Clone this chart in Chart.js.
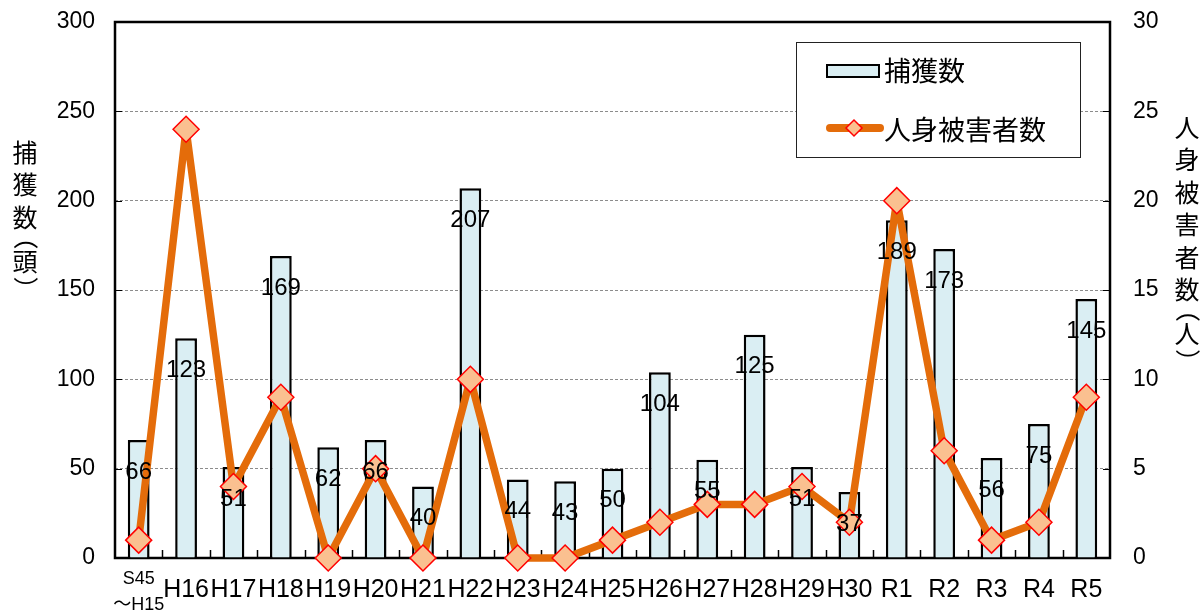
<!DOCTYPE html>
<html lang="ja">
<head>
<meta charset="utf-8">
<title>捕獲数と人身被害者数</title>
<script src="https://cdn.jsdelivr.net/npm/chart.js@4/dist/chart.umd.min.js"></script>
<style>
  html, body { margin: 0; padding: 0; background: #fff; }
  #wrap { width: 1203px; height: 611px; position: relative; }
</style>
</head>
<body>
<div id="wrap"><canvas id="myChart"></canvas></div>
<script>
// data
const years = [['S45', '～H15'], 'H16', 'H17', 'H18', 'H19', 'H20', 'H21', 'H22', 'H23', 'H24', 'H25',
  'H26', 'H27', 'H28', 'H29', 'H30', 'R1', 'R2', 'R3', 'R4', 'R5'];
const captures = [66, 123, 51, 169, 62, 66, 40, 207, 44, 43, 50, 104, 55, 125, 51, 37, 189, 173, 56, 75, 145];
const victims = [1, 24, 4, 9, 0, 5, 0, 10, 0, 0, 1, 2, 3, 3, 4, 2, 20, 6, 1, 2, 9];
const captureName = '捕獲数';
const victimName = '人身被害者数';
const leftTitle = ['捕', '獲', '数', '（', '頭', '）'];
const rightTitle = ['人', '身', '被', '害', '者', '数', '（', '人', '）'];

const FONT = "'Liberation Sans', 'Noto Sans CJK JP', sans-serif";
const JP = "'Noto Sans CJK JP', sans-serif";
const BAR_FILL = '#DAEEF3';
const LINE_COLOR = '#E46C0A';
const MARK_FILL = '#FAC090';
const MARK_EDGE = '#FF0000';

function strokeLine(ctx, x1, y1, x2, y2) {
  ctx.beginPath();
  ctx.moveTo(x1, y1);
  ctx.lineTo(x2, y2);
  ctx.stroke();
}

// vertical (stacked) axis title; brackets turned a quarter turn
function drawVertical(ctx, chars, x, y) {
  chars.forEach((c, i) => {
    if (i > 0) {
      const prev = chars[i - 1];
      if (c === '（') y += 20;
      else if (prev === '（') y += 24;
      else if (c === '）') y += 28;
      else y += 32.5;
    }
    if (c === '（' || c === '）') {
      ctx.save();
      ctx.translate(x, y);
      ctx.rotate(Math.PI / 2);
      ctx.fillText(c, 0, 0);
      ctx.restore();
    } else {
      ctx.fillText(c, x, y);
    }
  });
}

const decor = {
  id: 'decor',
  beforeDatasetsDraw(chart) {
    const {ctx, chartArea: a, scales} = chart;
    ctx.save();
    ctx.strokeStyle = '#000';
    ctx.lineWidth = 1;
    scales.y.ticks.forEach(t => {
      const py = Math.round(scales.y.getPixelForValue(t.value)) + 0.5;
      strokeLine(ctx, a.left, py, a.left + 7, py);
    });
    scales.y1.ticks.forEach(t => {
      const py = Math.round(scales.y1.getPixelForValue(t.value)) + 0.5;
      strokeLine(ctx, a.right - 7, py, a.right, py);
    });
    ctx.lineWidth = 1.5;
    for (let i = 1; i < years.length; i++) {
      const px = Math.round((scales.x.getPixelForValue(i - 1) + scales.x.getPixelForValue(i)) / 2) + 0.5;
      strokeLine(ctx, px, a.bottom, px, a.bottom - 8);
    }
    ctx.lineWidth = 2.5;
    ctx.strokeRect(a.left, a.top, a.right - a.left, a.bottom - a.top);
    ctx.restore();
  },
  afterDatasetsDraw(chart) {
    const {ctx} = chart;
    const meta = chart.getDatasetMeta(0);
    ctx.save();
    ctx.fillStyle = '#000';
    ctx.font = '24px ' + FONT;
    ctx.textAlign = 'center';
    ctx.textBaseline = 'middle';
    meta.data.forEach((bar, i) => {
      ctx.fillText(String(captures[i]), bar.x, bar.y + 32);
    });
    ctx.restore();
  },
  afterDraw(chart) {
    const {ctx, chartArea: a} = chart;
    ctx.save();
    // legend
    const lx = a.right - 314, ly = a.top + 20;
    ctx.fillStyle = '#fff';
    ctx.fillRect(lx, ly, 284, 115);
    ctx.strokeStyle = '#222';
    ctx.lineWidth = 1;
    ctx.strokeRect(lx + 0.5, ly + 0.5, 284, 115);
    ctx.fillStyle = BAR_FILL;
    ctx.strokeStyle = '#000';
    ctx.lineWidth = 2;
    ctx.fillRect(lx + 31, ly + 23, 52, 12);
    ctx.strokeRect(lx + 31, ly + 23, 52, 12);
    ctx.strokeStyle = LINE_COLOR;
    ctx.lineWidth = 8;
    ctx.lineCap = 'round';
    strokeLine(ctx, lx + 34, ly + 86, lx + 84, ly + 86);
    ctx.fillStyle = MARK_FILL;
    ctx.strokeStyle = MARK_EDGE;
    ctx.lineWidth = 1.5;
    ctx.beginPath();
    ctx.moveTo(lx + 50, ly + 86); ctx.lineTo(lx + 58, ly + 78);
    ctx.lineTo(lx + 66, ly + 86); ctx.lineTo(lx + 58, ly + 94);
    ctx.closePath();
    ctx.fill();
    ctx.stroke();
    ctx.fillStyle = '#000';
    ctx.font = '27px ' + JP;
    ctx.textAlign = 'left';
    ctx.textBaseline = 'middle';
    ctx.fillText(captureName, lx + 88, ly + 29);
    ctx.fillText(victimName, lx + 88, ly + 88);
    // axis titles
    ctx.font = '25px ' + JP;
    ctx.textAlign = 'center';
    drawVertical(ctx, leftTitle, 25, a.top + 130);
    drawVertical(ctx, rightTitle, 1187, a.top + 105);
    ctx.restore();
  }
};

const chart = new Chart(document.getElementById('myChart'), {
  data: {
    labels: years,
    datasets: [
      {
        type: 'bar', label: captureName, data: captures, yAxisID: 'y', order: 1,
        backgroundColor: BAR_FILL, borderColor: '#000', borderWidth: 2.5,
        barPercentage: 0.5, categoryPercentage: 0.92
      },
      {
        type: 'line', label: victimName, data: victims, yAxisID: 'y1', order: 0,
        borderColor: LINE_COLOR, borderWidth: 7.5, tension: 0, clip: false,
        borderJoinStyle: 'round', borderCapStyle: 'round',
        pointStyle: 'rectRot', pointRadius: 13, pointHoverRadius: 13,
        pointBackgroundColor: MARK_FILL, pointBorderColor: MARK_EDGE, pointBorderWidth: 1.5
      }
    ]
  },
  options: {
    responsive: true,
    maintainAspectRatio: false,
    animation: false,
    layout: {padding: {top: 22, left: 0, right: 0, bottom: 0}},
    plugins: {legend: {display: false}, tooltip: {enabled: false}},
    scales: {
      x: {
        offset: true,
        grid: {display: false, drawTicks: false},
        border: {display: false},
        ticks: {
          color: '#000', padding: 8, maxRotation: 0, autoSkip: false,
          font: (c) => c.index === 0 ? {family: FONT, size: 18, lineHeight: 1.45} : {family: FONT, size: 25, lineHeight: 1.9}
        },
        afterFit: (s) => { s.height = 53; }
      },
      y: {
        position: 'left', min: 0, max: 300,
        grid: {color: '#8c8c8c', lineWidth: 1, drawTicks: false},
        border: {display: false, dash: [3, 2]},
        ticks: {stepSize: 50, color: '#000', padding: 20, font: {family: FONT, size: 23}},
        afterFit: (s) => { s.width = 115; s.paddingTop = 0; s.paddingBottom = 0; }
      },
      y1: {
        position: 'right', min: 0, max: 30,
        grid: {display: false, drawTicks: false},
        border: {display: false},
        ticks: {stepSize: 5, color: '#000', padding: 23, font: {family: FONT, size: 23}},
        afterFit: (s) => { s.width = 93; s.paddingTop = 0; s.paddingBottom = 0; }
      }
    }
  },
  plugins: [decor]
});
</script>
</body>
</html>
